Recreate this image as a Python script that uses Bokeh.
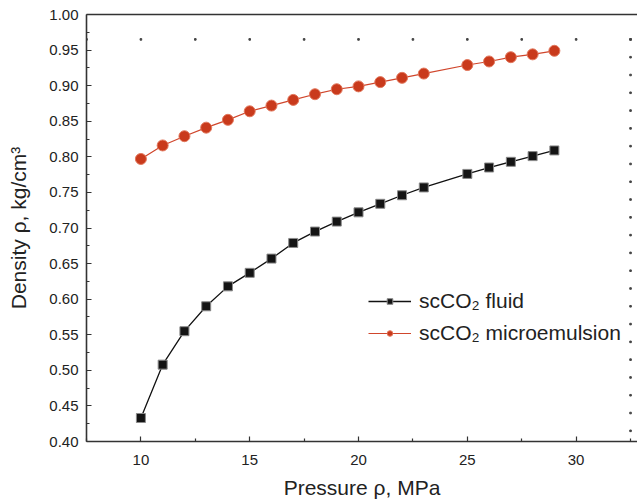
from bokeh.plotting import figure
from bokeh.models import (FixedTicker, LinearAxis, Range1d, Legend, LegendItem)
from bokeh.embed import file_html
from bokeh.resources import INLINE

# ---- data ----
pressure_fluid = [10, 11, 12, 13, 14, 15, 16, 17, 18, 19, 20, 21, 22, 23, 25, 26, 27, 28, 29]
density_fluid = [0.433, 0.508, 0.555, 0.590, 0.618, 0.637, 0.657, 0.679, 0.695, 0.709,
                 0.722, 0.734, 0.746, 0.757, 0.776, 0.785, 0.793, 0.801, 0.809]
pressure_micro = [10, 11, 12, 13, 14, 15, 16, 17, 18, 19, 20, 21, 22, 23, 25, 26, 27, 28, 29]
density_micro = [0.797, 0.816, 0.829, 0.841, 0.852, 0.864, 0.872, 0.880, 0.888, 0.895,
                 0.899, 0.905, 0.911, 0.917, 0.929, 0.934, 0.940, 0.944, 0.949]

x_major = [10, 15, 20, 25, 30]
x_minor = [7.5, 12.5, 17.5, 22.5, 27.5, 32.5]
y_major = [0.40, 0.45, 0.50, 0.55, 0.60, 0.65, 0.70, 0.75, 0.80, 0.85, 0.90, 0.95, 1.00]
y_minor = [0.425, 0.475, 0.525, 0.575, 0.625, 0.675, 0.725, 0.775, 0.825, 0.875, 0.925, 0.975]
y_labels = ["0.40", "0.45", "0.50", "0.55", "0.60", "0.65", "0.70", "0.75", "0.80",
            "0.85", "0.90", "0.95", "1.00"]

# small tick marks of the (cropped) inner frame seen in the reference
frame_top_x = [7.5, 10, 12.5, 15, 17.5, 20, 22.5, 25, 27.5, 30, 32.5]
frame_top_y = [0.965] * len(frame_top_x)
frame_right_y = [0.965, 0.94, 0.915, 0.89, 0.865, 0.84, 0.815, 0.79, 0.765, 0.74, 0.715,
                 0.69, 0.665, 0.64, 0.615, 0.59, 0.565, 0.54, 0.515, 0.49, 0.465, 0.44, 0.415]
frame_right_x = [32.5] * len(frame_right_y)

FONT = "Liberation Sans"
TXT = "#222222"
AX = "#333333"

p = figure(width=637, height=501, output_backend="svg", toolbar_location=None,
           x_range=Range1d(7.5, 32.82), y_range=Range1d(0.40, 1.00),
           x_axis_type=None, y_axis_type=None,
           min_border_left=86, min_border_right=0, min_border_top=14, min_border_bottom=60)
p.outline_line_color = None
p.xgrid.visible = False
p.ygrid.visible = False
p.background_fill_color = "white"
p.border_fill_color = "white"

# bottom axis
xax = LinearAxis(ticker=FixedTicker(ticks=x_major, minor_ticks=x_minor))
xax.axis_label = "Pressure ρ, MPa"
# left axis
yax = LinearAxis(ticker=FixedTicker(ticks=y_major, minor_ticks=y_minor))
yax.axis_label = "Density ρ, kg/cm³"
yax.major_label_overrides = {v: s for v, s in zip(y_major, y_labels)}

for ax in (xax, yax):
    ax.axis_line_color = AX
    ax.axis_line_width = 1.6
    ax.major_tick_line_color = AX
    ax.minor_tick_line_color = AX
    ax.major_tick_line_width = 1.2
    ax.minor_tick_line_width = 1.2
    ax.major_tick_out = 0
    ax.major_tick_in = 5
    ax.minor_tick_out = 0
    ax.minor_tick_in = 3
    ax.major_label_text_font = FONT
    ax.major_label_text_font_size = "15px"
    ax.major_label_text_color = TXT
    ax.axis_label_text_font = FONT
    ax.axis_label_text_font_size = "21px"
    ax.axis_label_text_font_style = "normal"
    ax.axis_label_text_color = TXT

xax.major_label_standoff = 13
xax.axis_label_standoff = 8
yax.major_label_standoff = 8
yax.axis_label_standoff = 16

p.add_layout(xax, "below")
p.add_layout(yax, "left")

# top frame line
topax = LinearAxis(ticker=FixedTicker(ticks=[]))
topax.axis_line_color = AX
topax.axis_line_width = 1.6
topax.major_tick_out = 0
topax.major_tick_in = 0
topax.minor_tick_out = 0
topax.minor_tick_in = 0
topax.major_label_text_font_size = "0px"
p.add_layout(topax, "above")

# decorative frame ticks
p.scatter(frame_top_x, frame_top_y, marker="square", size=1.6, color="#444444")
p.scatter(frame_right_x, frame_right_y, marker="square", size=1.6, color="#444444")

# series
l1 = p.line(pressure_fluid, density_fluid, line_color="#111111", line_width=1.3)
s1 = p.scatter(pressure_fluid, density_fluid, marker="square", size=9,
               fill_color="#141414", line_color="#8a8a8a", line_width=1)
l2 = p.line(pressure_micro, density_micro, line_color="#D0462C", line_width=1.2)
s2 = p.scatter(pressure_micro, density_micro, marker="circle", size=11,
               fill_color="#C93A1C", line_color="#E2775C", line_width=1)

legend = Legend(items=[LegendItem(label="scCO₂ fluid", renderers=[l1, s1]),
                       LegendItem(label="scCO₂ microemulsion", renderers=[l2, s2])],
                location=(282, 96), border_line_color=None, background_fill_alpha=0,
                glyph_width=43, glyph_height=14, label_standoff=8, spacing=8,
                padding=0, margin=0, label_text_font=FONT, label_text_font_size="21px",
                label_text_color=TXT)
p.add_layout(legend)

open("out.html", "w").write(file_html(p, INLINE))
